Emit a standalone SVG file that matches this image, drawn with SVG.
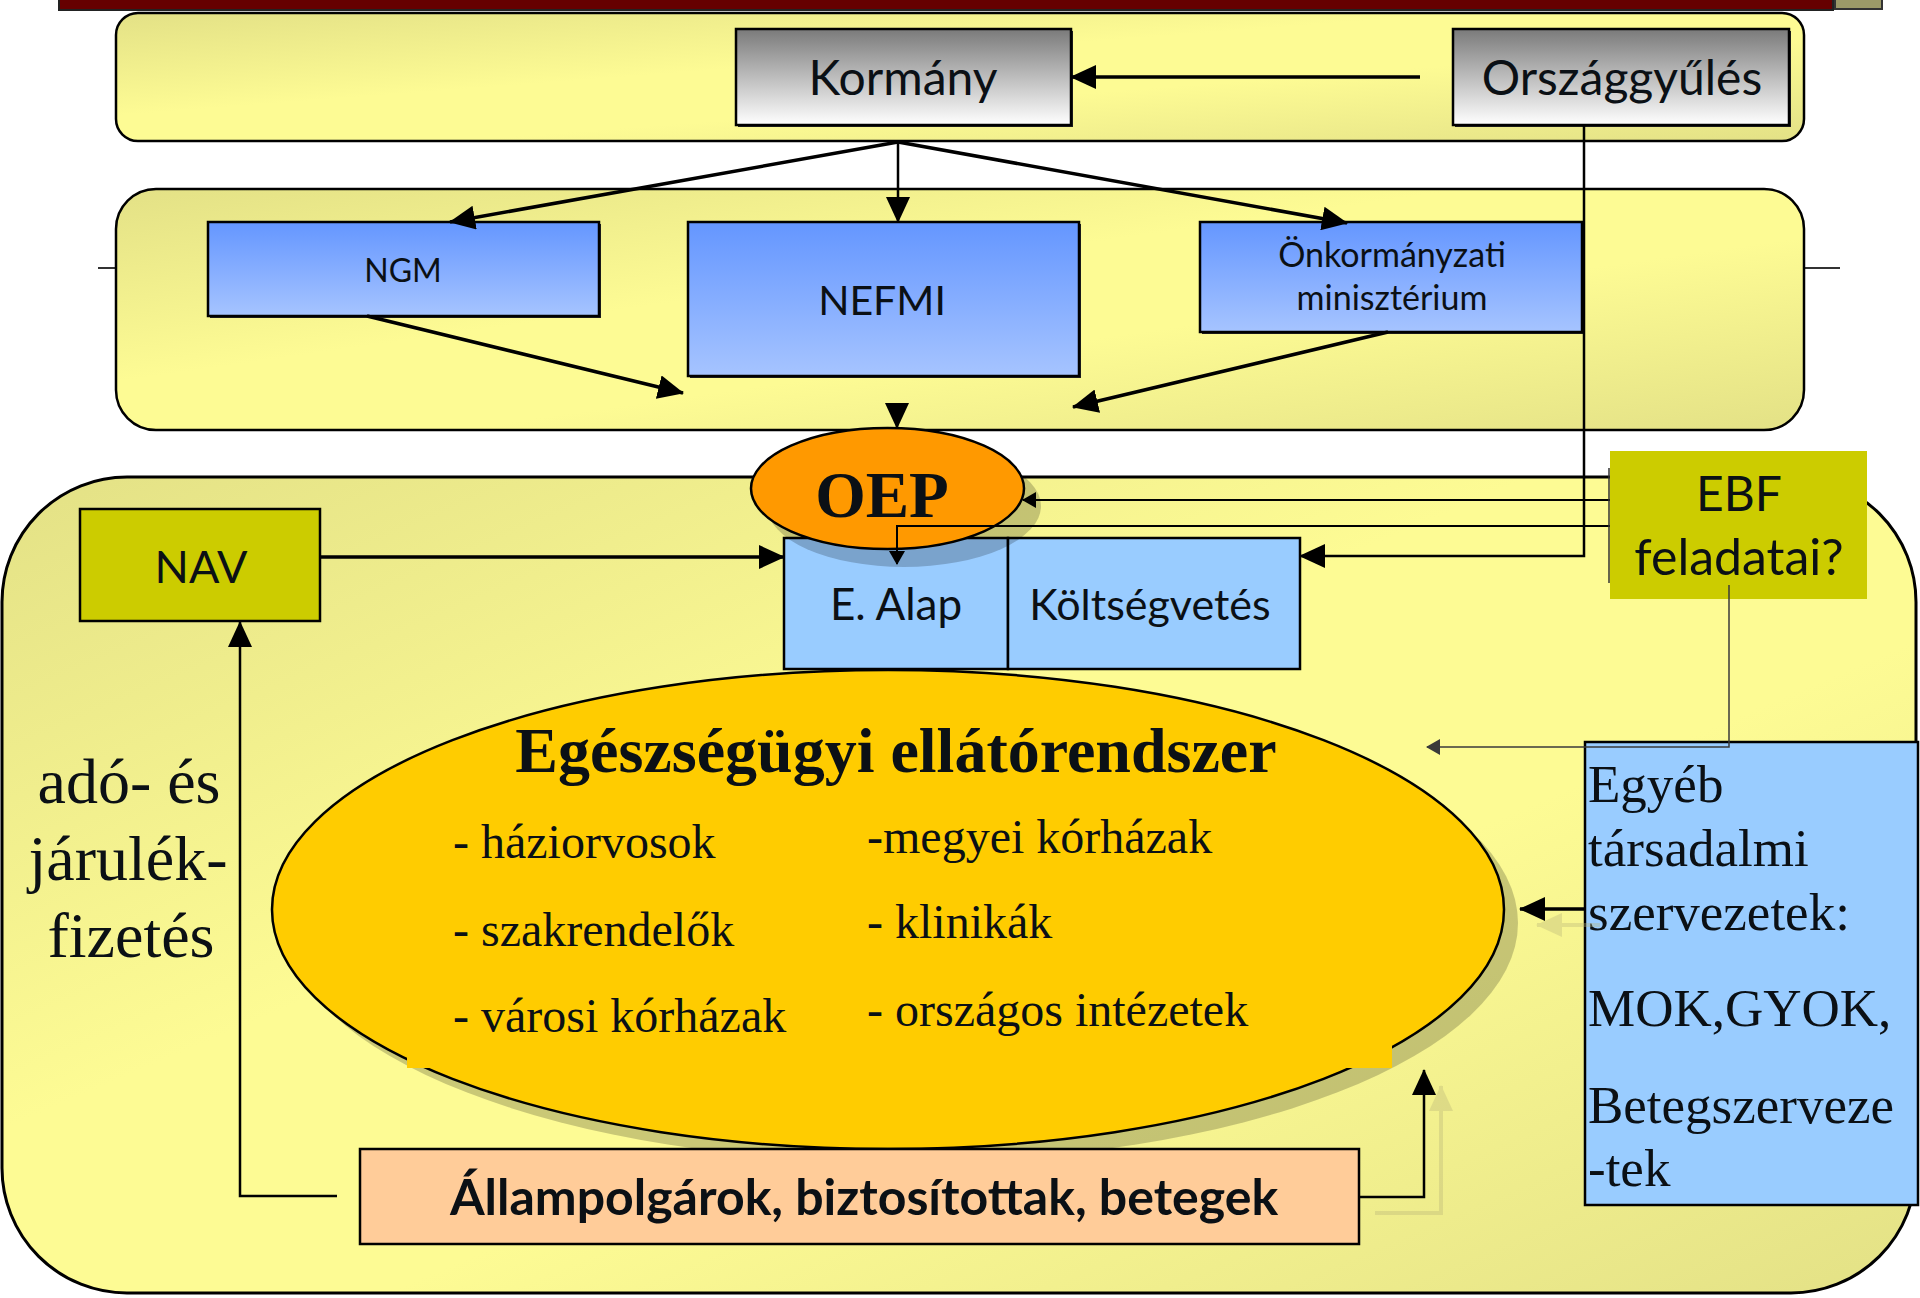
<svg xmlns="http://www.w3.org/2000/svg" width="1920" height="1298" viewBox="0 0 1920 1298">
<style>
.sans{font-family:Lato,"Open Sans",sans-serif;fill:#0b1015}
.serif{font-family:"Liberation Serif","Times New Roman",serif;fill:#0b1015}
.thick{fill:none;stroke:#000;stroke-width:3.5}
.thin{fill:none;stroke:#000;stroke-width:2.5}
.box{stroke:#000;stroke-width:2.5}
</style>
<defs>
<linearGradient id="yel" x1="0" y1="0" x2="1" y2="1">
<stop offset="0" stop-color="#e3e186"/>
<stop offset="0.4" stop-color="#fdfb94"/>
<stop offset="0.6" stop-color="#fdfb94"/>
<stop offset="1" stop-color="#e3e186"/>
</linearGradient>
<linearGradient id="gray" x1="0" y1="0" x2="0" y2="1">
<stop offset="0" stop-color="#7a7a7a"/>
<stop offset="1" stop-color="#ffffff"/>
</linearGradient>
<linearGradient id="blue" x1="0" y1="0" x2="0" y2="1">
<stop offset="0" stop-color="#6496ff"/>
<stop offset="1" stop-color="#a6c4ff"/>
</linearGradient>
<marker id="ah" viewBox="0 0 26 24" refX="25" refY="12" markerWidth="26" markerHeight="24" markerUnits="userSpaceOnUse" orient="auto"><path d="M0,0 L26,12 L0,24 z" fill="#000"/></marker>
<marker id="as" viewBox="0 0 14 16" refX="13" refY="8" markerWidth="14" markerHeight="16" markerUnits="userSpaceOnUse" orient="auto"><path d="M0,0 L14,8 L0,16 z" fill="#000"/></marker>
<marker id="ag" viewBox="0 0 14 16" refX="13" refY="8" markerWidth="14" markerHeight="16" markerUnits="userSpaceOnUse" orient="auto"><path d="M0,0 L14,8 L0,16 z" fill="#3a3a3a"/></marker>
<marker id="ash" viewBox="0 0 26 24" refX="25" refY="12" markerWidth="26" markerHeight="24" markerUnits="userSpaceOnUse" orient="auto"><path d="M0,0 L26,12 L0,24 z" fill="#b8b478"/></marker>
</defs>

<g id="topbar">
<rect x="59" y="-5" width="1774" height="15" fill="#660000" stroke="#222" stroke-width="2"/>
<rect x="1835" y="-5" width="47" height="14" fill="#9c9a68" stroke="#333" stroke-width="2"/>
</g>

<g id="top-panel"><rect x="116" y="13" width="1688" height="128" rx="22" fill="url(#yel)" class="box"/></g>
<g id="middle-panel">
<line x1="98" y1="268" x2="116" y2="268" stroke="#333" stroke-width="2"/>
<line x1="1804" y1="268" x2="1840" y2="268" stroke="#333" stroke-width="2"/>
<rect x="116" y="189" width="1688" height="241" rx="40" fill="url(#yel)" class="box"/>
</g>
<g id="bottom-panel"><rect x="2" y="477" width="1914" height="816" rx="125" fill="url(#yel)" stroke="#000" stroke-width="3"/></g>

<g id="kormany">
<rect x="738" y="31" width="335" height="96" fill="#222"/>
<rect x="736" y="29" width="335" height="96" fill="url(#gray)" class="box"/>
<text x="903" y="95" class="sans" font-size="48" text-anchor="middle">Kormány</text>
</g>
<g id="orszaggyules">
<rect x="1455" y="31" width="336" height="96" fill="#222"/>
<rect x="1453" y="29" width="336" height="96" fill="url(#gray)" class="box"/>
<text x="1622" y="95" class="sans" font-size="48" text-anchor="middle">Országgyűlés</text>
</g>

<g id="ngm">
<rect x="210" y="224" width="391" height="94" fill="#222"/>
<rect x="208" y="222" width="391" height="94" fill="url(#blue)" class="box"/>
<text x="403" y="282" class="sans" font-size="32" text-anchor="middle">NGM</text>
</g>
<g id="nefmi">
<rect x="690" y="224" width="391" height="154" fill="#222"/>
<rect x="688" y="222" width="391" height="154" fill="url(#blue)" class="box"/>
<text x="882" y="315" class="sans" font-size="41" text-anchor="middle">NEFMI</text>
</g>
<g id="onkormanyzati">
<rect x="1202" y="224" width="382" height="110" fill="#222"/>
<rect x="1200" y="222" width="382" height="110" fill="url(#blue)" class="box"/>
<text x="1392" y="267" class="sans" font-size="34" text-anchor="middle">Önkormányzati</text>
<text x="1392" y="310" class="sans" font-size="34" text-anchor="middle">minisztérium</text>
</g>

<g id="egeszsegugyi">
<ellipse cx="902" cy="923" rx="616" ry="239.5" fill="#000" opacity="0.2"/>
<ellipse cx="888" cy="909.5" rx="616" ry="239.5" fill="#ffcc00" stroke="#000" stroke-width="2.5"/>
<rect x="407" y="800" width="985" height="268" fill="#ffcc00"/>
<text x="896" y="772" class="serif" font-size="64" font-weight="bold" text-anchor="middle">Egészségügyi ellátórendszer</text>
<text x="453" y="858" class="serif" font-size="48">- háziorvosok</text>
<text x="453" y="946" class="serif" font-size="48">- szakrendelők</text>
<text x="453" y="1032" class="serif" font-size="48">- városi kórházak</text>
<text x="867" y="853" class="serif" font-size="48">-megyei kórházak</text>
<text x="867" y="938" class="serif" font-size="48">- klinikák</text>
<text x="867" y="1026" class="serif" font-size="48">- országos intézetek</text>
</g>

<g id="e-alap">
<rect x="784" y="538" width="224" height="131" fill="#99ccff" class="box"/>
<text x="896" y="620" class="sans" font-size="44" text-anchor="middle">E. Alap</text>
</g>
<g id="koltsegvetes">
<rect x="1008" y="538" width="292" height="131" fill="#99ccff" class="box"/>
<text x="1150" y="620" class="sans" font-size="43" text-anchor="middle">Költségvetés</text>
</g>

<g id="oep">
<ellipse cx="904" cy="506" rx="137" ry="61" fill="#000" opacity="0.2"/>
<ellipse cx="887.5" cy="488.5" rx="136.5" ry="60.5" fill="#ff9900" stroke="#000" stroke-width="2.5"/>
<text x="882" y="517" class="serif" font-size="65" font-weight="bold" text-anchor="middle">OEP</text>
</g>

<g id="nav">
<rect x="80" y="509" width="240" height="112" fill="#cccc00" class="box"/>
<text x="201" y="583" class="sans" font-size="45" text-anchor="middle">NAV</text>
</g>

<g id="ebf">
<rect x="1610" y="451" width="257" height="148" fill="#cccc00"/>
<text x="1739" y="511" class="sans" font-size="48" text-anchor="middle">EBF</text>
<text x="1739" y="575" class="sans" font-size="50" text-anchor="middle">feladatai?</text>
</g>

<g id="egyeb">
<rect x="1585" y="742" width="333" height="463" fill="#99ccff" class="box"/>
<text class="serif" font-size="53">
<tspan x="1588" y="802">Egyéb</tspan>
<tspan x="1588" y="866">társadalmi</tspan>
<tspan x="1588" y="930">szervezetek:</tspan>
<tspan x="1588" y="1026">MOK,GYOK,</tspan>
<tspan x="1588" y="1123">Betegszerveze</tspan>
<tspan x="1588" y="1186">-tek</tspan>
</text>
</g>

<g id="allampolgarok">
<rect x="360" y="1149" width="999" height="95" fill="#ffcc99" class="box"/>
<text x="864" y="1215" class="sans" font-size="50" font-weight="bold" text-anchor="middle">Állampolgárok, biztosítottak, betegek</text>
</g>

<g id="ado">
<text class="serif" font-size="64" text-anchor="middle">
<tspan x="137" y="803">adó- és</tspan>
<tspan x="136" y="880">járulék-</tspan>
<tspan x="131" y="957">fizetés</tspan>
</text>
</g>

<g id="connectors">
<g opacity="0.35">
<path d="M1600,925 L1537,925" fill="none" stroke="#b8b478" stroke-width="4" marker-end="url(#ash)"/>
<path d="M1375,1213 L1441,1213 L1441,1086" fill="none" stroke="#b8b478" stroke-width="4" marker-end="url(#ash)"/>
</g>
<path d="M1420,77 L1071,77" class="thick" marker-end="url(#ah)"/>
<path d="M898,142 L450,222" class="thick" marker-end="url(#ah)"/>
<path d="M898,142 L898,222" class="thin" marker-end="url(#ah)"/>
<path d="M898,142 L1347,223" class="thick" marker-end="url(#ah)"/>
<path d="M367,316 L683,393" class="thick" marker-end="url(#ah)"/>
<path d="M1388,332 L1073,407" class="thick" marker-end="url(#ah)"/>
<path d="M897,404 L897,428" class="thin" marker-end="url(#ah)"/>
<path d="M320,557 L784,557" class="thick" marker-end="url(#ah)"/>
<path d="M1584,125 L1584,556 L1300,556" class="thin" marker-end="url(#ah)"/>
<path d="M1610,500 L1023,500" fill="none" stroke="#000" stroke-width="2" marker-end="url(#as)"/>
<path d="M1610,526 L897,526 L897,564" fill="none" stroke="#000" stroke-width="2" marker-end="url(#as)"/>
<line x1="1609" y1="468" x2="1609" y2="583" stroke="#333" stroke-width="1.5"/>
<path d="M1729,585 L1729,747 L1427,747" fill="none" stroke="#3a3a3a" stroke-width="1.5" marker-end="url(#ag)"/>
<path d="M1585,909 L1520,909" class="thick" marker-end="url(#ah)"/>
<path d="M1359,1197 L1424,1197 L1424,1070" class="thin" marker-end="url(#ah)"/>
<path d="M337,1196 L240,1196 L240,622" class="thin" marker-end="url(#ah)"/>
</g>
</svg>
